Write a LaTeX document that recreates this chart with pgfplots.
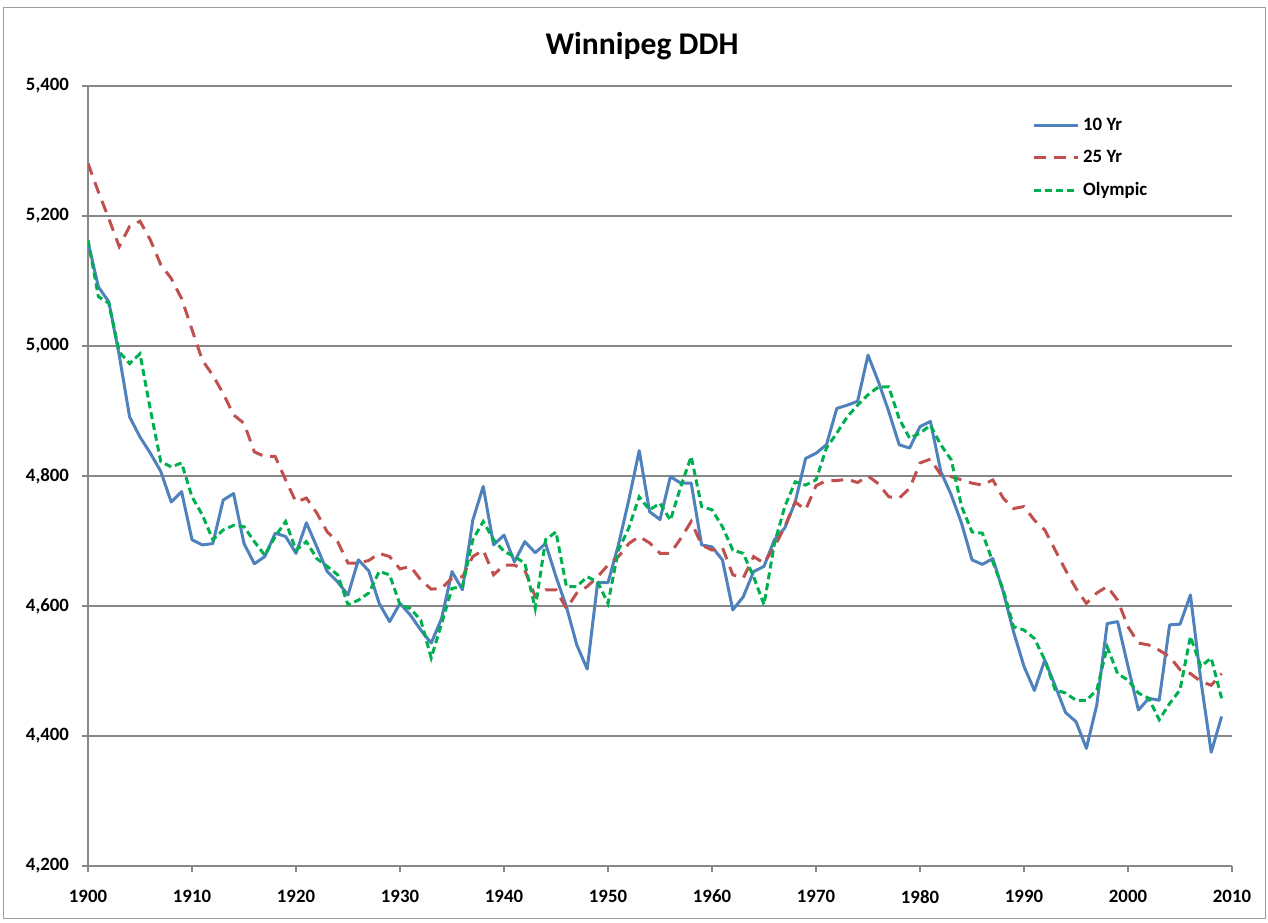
\documentclass[border=0pt]{standalone}
\usepackage{pgfplots}
\pgfplotsset{compat=1.18}
\usepackage{fontspec}
\setmainfont{Carlito}
\definecolor{cblue}{HTML}{4F81BD}
\definecolor{cred}{HTML}{C0504D}
\definecolor{cgreen}{HTML}{00B050}
\definecolor{cgrid}{HTML}{878787}
\begin{document}
\begin{tikzpicture}
\useasboundingbox (0,0) rectangle (634pt,461pt);
\draw[cgrid!80, line width=0.5pt] (1.5pt,2pt) rectangle (632.5pt,457pt);
\node[font=\bfseries\fontsize{15.8}{18}\selectfont] at (321pt,438pt) {Winnipeg DDH};
\begin{axis}[
  at={(44pt,28pt)}, anchor=south west,
  scale only axis, width=572pt, height=390pt,
  xmin=1900, xmax=2010, ymin=4200, ymax=5400,
  xtick={1900,1910,...,2010}, ytick={4200,4400,...,5400},
  axis x line*=bottom, axis y line*=left,
  axis line style={cgrid, line width=0.6pt},
  every inner x axis line/.append style={-}, every inner y axis line/.append style={-},
  ymajorgrids, major grid style={cgrid, line width=0.6pt},
  tick align=outside, major tick length=3pt,
  tick style={cgrid, line width=0.6pt},
  /pgf/number format/assume math mode=true,
  ticklabel style={font=\bfseries\fontsize{9.4}{11}\selectfont},
  y tick label style={/pgf/number format/1000 sep={,}, /pgf/number format/fixed, xshift=-3pt},
  x tick label style={/pgf/number format/1000 sep={}, yshift=-5.5pt},
  legend style={at={(0.825,0.965)}, anchor=north west, draw=none, fill=none,
    font=\bfseries\fontsize{9.4}{11}\selectfont, row sep=4.6pt,
    inner sep=0pt},
  legend cell align=left,
  legend image code/.code={\draw[#1] (0pt,0pt) -- (22pt,0pt);},
]
\addplot[cblue, line width=1.5pt, line join=round] coordinates {
(1900,5160)(1901,5091)(1902,5068)(1903,4986)(1904,4891)(1905,4860)(1906,4835)(1907,4807)(1908,4760)(1909,4776)
(1910,4702)(1911,4694)(1912,4696)(1913,4763)(1914,4773)(1915,4696)(1916,4665)(1917,4676)(1918,4712)(1919,4707)
(1920,4681)(1921,4728)(1922,4691)(1923,4653)(1924,4637)(1925,4617)(1926,4671)(1927,4654)(1928,4604)(1929,4576)
(1930,4604)(1931,4586)(1932,4563)(1933,4543)(1934,4581)(1935,4653)(1936,4625)(1937,4732)(1938,4784)(1939,4694)
(1940,4709)(1941,4668)(1942,4699)(1943,4682)(1944,4696)(1945,4645)(1946,4599)(1947,4540)(1948,4503)(1949,4636)
(1950,4636)(1951,4694)(1952,4763)(1953,4839)(1954,4745)(1955,4733)(1956,4799)(1957,4789)(1958,4789)(1959,4694)
(1960,4691)(1961,4671)(1962,4594)(1963,4614)(1964,4653)(1965,4661)(1966,4702)(1967,4720)(1968,4760)(1969,4827)
(1970,4835)(1971,4848)(1972,4904)(1973,4909)(1974,4915)(1975,4986)(1976,4945)(1977,4899)(1978,4848)(1979,4843)
(1980,4876)(1981,4884)(1982,4807)(1983,4771)(1984,4727)(1985,4671)(1986,4664)(1987,4673)(1988,4622)(1989,4560)
(1990,4507)(1991,4470)(1992,4517)(1993,4477)(1994,4436)(1995,4422)(1996,4381)(1997,4448)(1998,4573)(1999,4576)
(2000,4507)(2001,4440)(2002,4458)(2003,4455)(2004,4571)(2005,4572)(2006,4617)(2007,4486)(2008,4375)(2009,4430)
};
\addlegendentry{10 Yr}
\addplot[cred, line width=1.5pt, dash pattern=on 6pt off 4pt] coordinates {
(1900,5281)(1901,5237)(1902,5196)(1903,5153)(1904,5184)(1905,5192)(1906,5163)(1907,5125)(1908,5104)(1909,5073)
(1910,5025)(1911,4978)(1912,4955)(1913,4927)(1914,4894)(1915,4881)(1916,4837)(1917,4830)(1918,4830)(1919,4794)
(1920,4760)(1921,4766)(1922,4743)(1923,4714)(1924,4699)(1925,4666)(1926,4666)(1927,4670)(1928,4681)(1929,4676)
(1930,4657)(1931,4661)(1932,4640)(1933,4626)(1934,4627)(1935,4643)(1936,4645)(1937,4676)(1938,4686)(1939,4648)
(1940,4663)(1941,4663)(1942,4655)(1943,4615)(1944,4625)(1945,4625)(1946,4596)(1947,4620)(1948,4630)(1949,4645)
(1950,4663)(1951,4676)(1952,4696)(1953,4707)(1954,4697)(1955,4681)(1956,4681)(1957,4704)(1958,4730)(1959,4694)
(1960,4686)(1961,4690)(1962,4648)(1963,4643)(1964,4676)(1965,4666)(1966,4691)(1967,4722)(1968,4760)(1969,4748)
(1970,4785)(1971,4793)(1972,4793)(1973,4795)(1974,4790)(1975,4800)(1976,4788)(1977,4768)(1978,4766)(1979,4781)
(1980,4820)(1981,4826)(1982,4802)(1983,4799)(1984,4794)(1985,4789)(1986,4786)(1987,4794)(1988,4766)(1989,4750)
(1990,4753)(1991,4732)(1992,4717)(1993,4686)(1994,4655)(1995,4627)(1996,4604)(1997,4620)(1998,4630)(1999,4609)
(2000,4568)(2001,4543)(2002,4540)(2003,4532)(2004,4522)(2005,4502)(2006,4496)(2007,4484)(2008,4478)(2009,4496)
};
\addlegendentry{25 Yr}
\addplot[cgreen, line width=1.5pt, dash pattern=on 3.5pt off 2pt] coordinates {
(1900,5163)(1901,5076)(1902,5066)(1903,4991)(1904,4973)(1905,4988)(1906,4902)(1907,4822)(1908,4814)(1909,4820)
(1910,4768)(1911,4740)(1912,4702)(1913,4717)(1914,4724)(1915,4722)(1916,4699)(1917,4678)(1918,4707)(1919,4730)
(1920,4686)(1921,4699)(1922,4673)(1923,4661)(1924,4648)(1925,4602)(1926,4609)(1927,4620)(1928,4653)(1929,4648)
(1930,4602)(1931,4596)(1932,4578)(1933,4520)(1934,4573)(1935,4627)(1936,4630)(1937,4702)(1938,4730)(1939,4702)
(1940,4684)(1941,4676)(1942,4666)(1943,4596)(1944,4702)(1945,4714)(1946,4630)(1947,4630)(1948,4645)(1949,4637)
(1950,4604)(1951,4686)(1952,4720)(1953,4768)(1954,4748)(1955,4758)(1956,4732)(1957,4784)(1958,4830)(1959,4753)
(1960,4748)(1961,4722)(1962,4686)(1963,4681)(1964,4645)(1965,4602)(1966,4696)(1967,4753)(1968,4791)(1969,4786)
(1970,4794)(1971,4843)(1972,4866)(1973,4891)(1974,4909)(1975,4925)(1976,4937)(1977,4937)(1978,4888)(1979,4858)
(1980,4866)(1981,4878)(1982,4848)(1983,4825)(1984,4753)(1985,4714)(1986,4712)(1987,4668)(1988,4625)(1989,4568)
(1990,4563)(1991,4550)(1992,4517)(1993,4471)(1994,4466)(1995,4455)(1996,4455)(1997,4471)(1998,4537)(1999,4496)
(2000,4486)(2001,4466)(2002,4458)(2003,4425)(2004,4450)(2005,4471)(2006,4553)(2007,4507)(2008,4520)(2009,4458)
};
\addlegendentry{Olympic}
\end{axis}
\end{tikzpicture}
\end{document}
